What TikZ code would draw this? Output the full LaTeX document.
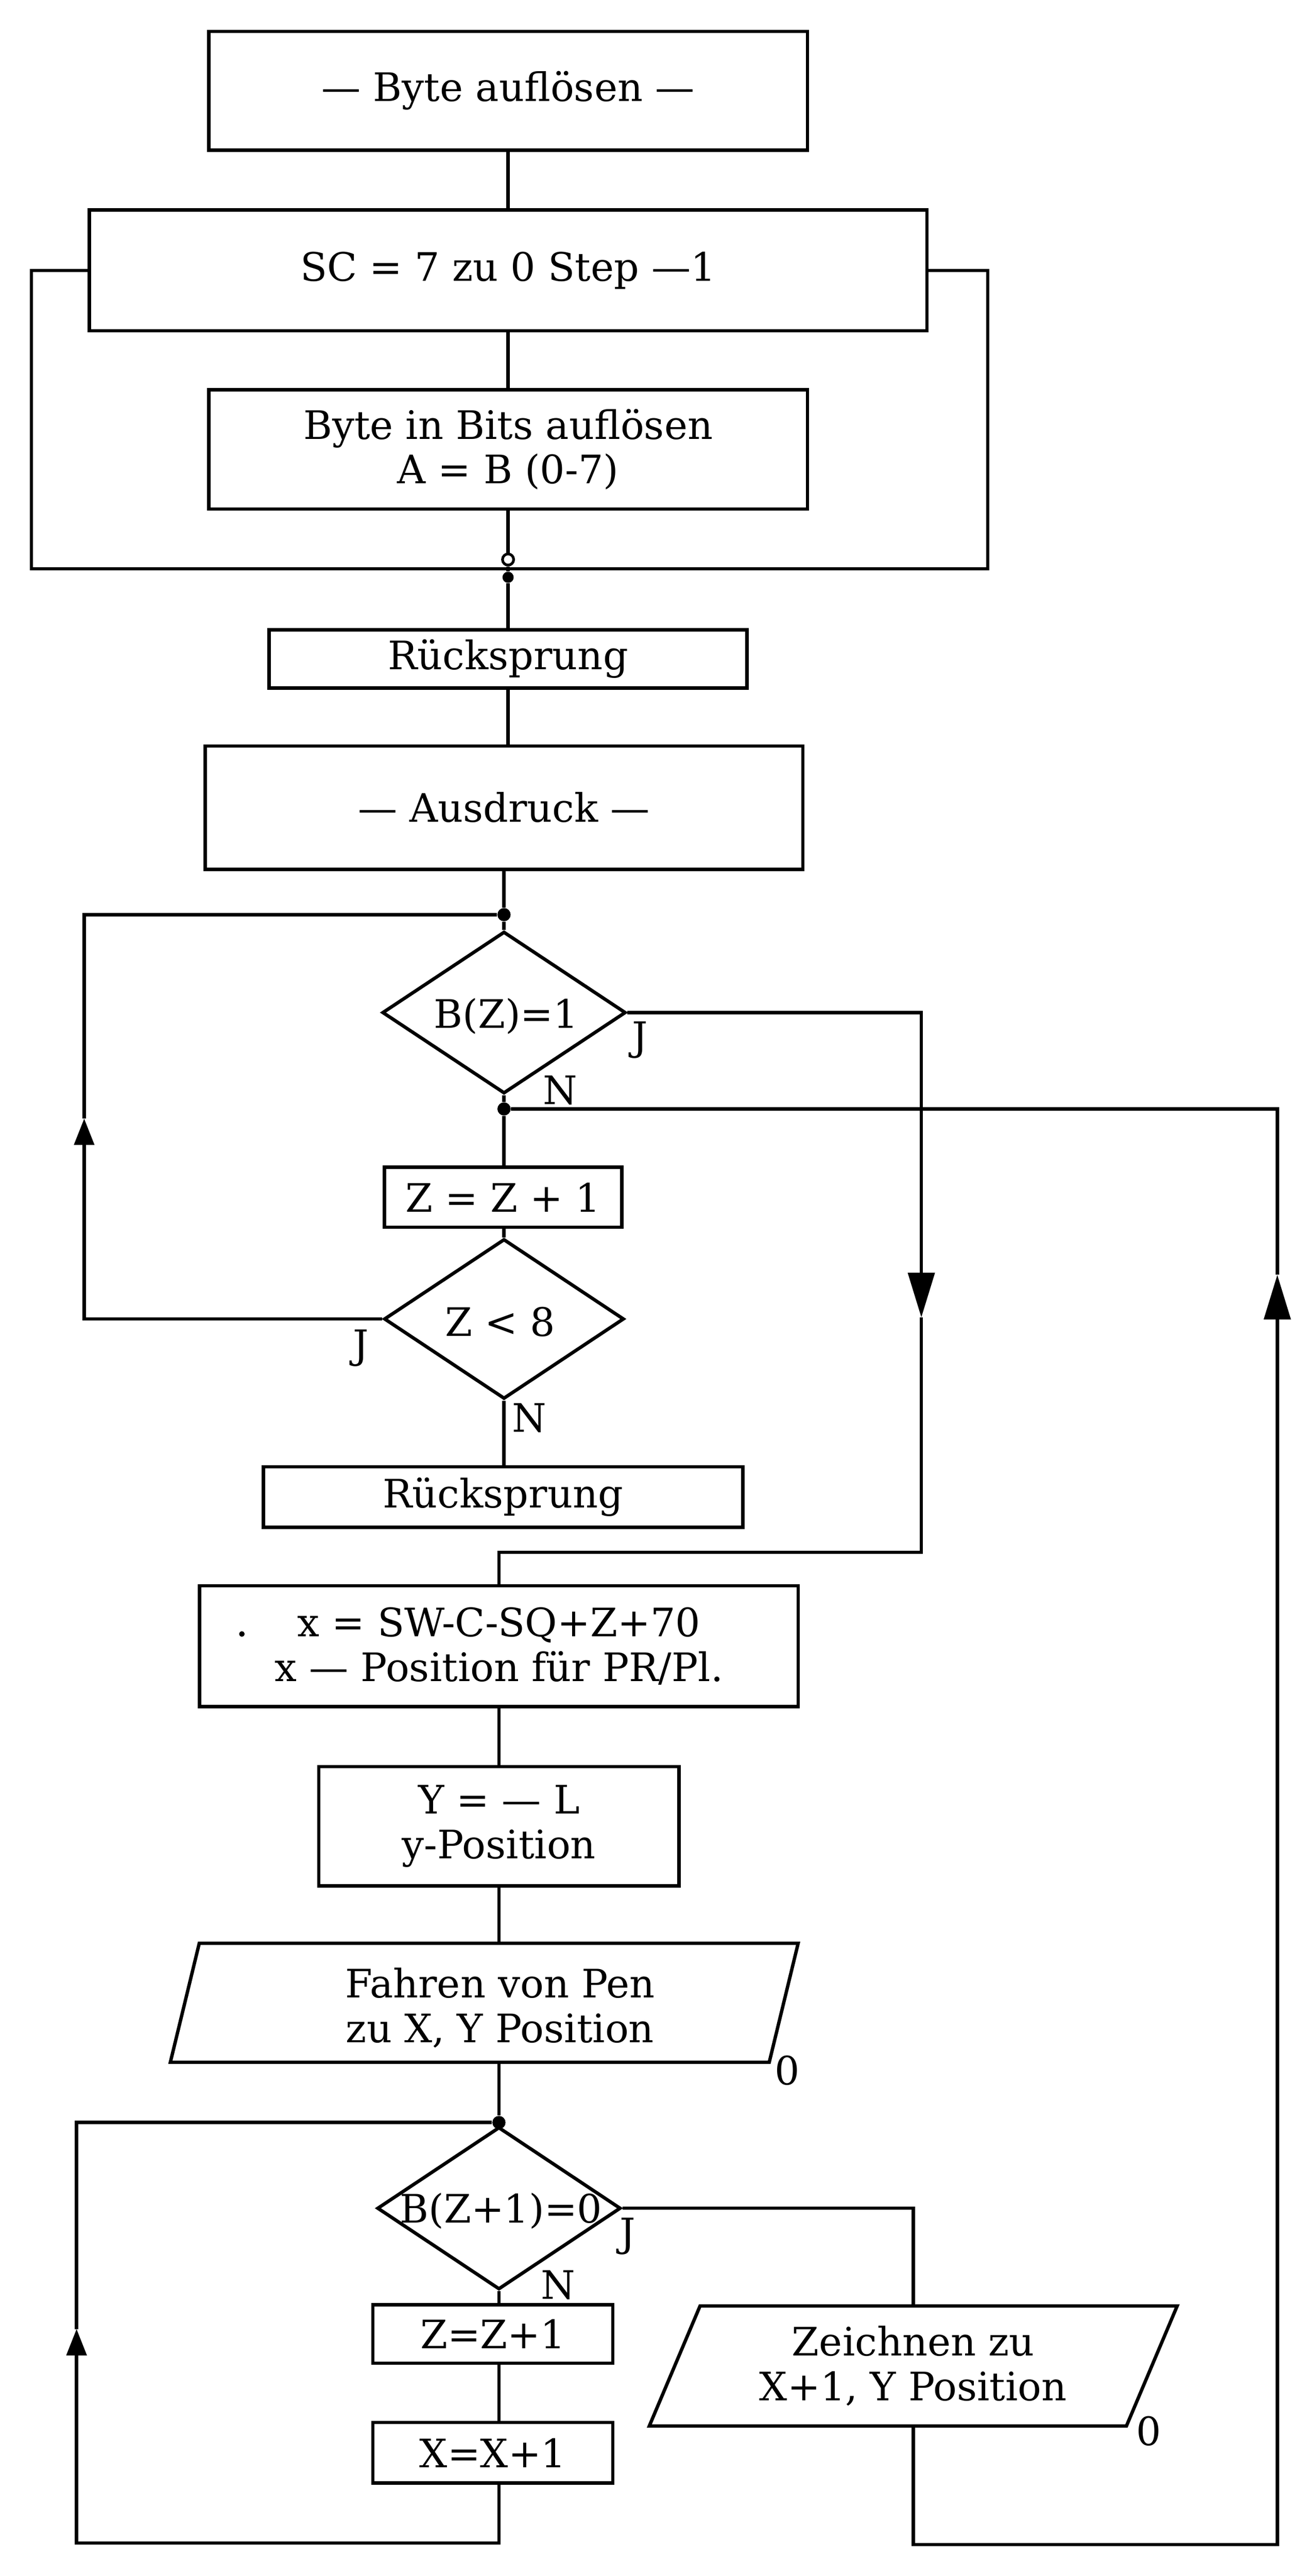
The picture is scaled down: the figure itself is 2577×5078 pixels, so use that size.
\documentclass[tikz,border=0pt]{standalone}
\usepackage{fontspec}
\setmainfont{DejaVu Serif}
\usetikzlibrary{shapes.geometric,arrows.meta}
\newcommand\flowfont{\fontsize{22pt}{25pt}\selectfont}
\tikzset{
  ln/.style={line width=1.9pt},
  box/.style={draw, rectangle, line width=1.9pt, inner sep=0pt, align=center, font=\flowfont},
  dia/.style={draw, diamond, line width=1.9pt, inner sep=0pt},
  frame/.style={rectangle, inner sep=0pt},
  txt/.style={inner sep=0pt, align=center, font=\flowfont},
  lbl/.style={inner sep=0pt, font=\flowfont},
  jdot/.style={circle, fill, inner sep=0pt, minimum size=0.26cm},
  odot/.style={circle, draw, fill=white, line width=1.5pt, inner sep=0pt, minimum size=0.22cm},
  bigtip/.style={-{Triangle[length=0.88cm,width=0.52cm]}},
  smalltip/.style={-{Triangle[length=0.52cm,width=0.39cm]}}
}
\begin{document}
\begin{tikzpicture}[x=0.01cm,y=-0.01cm]
\useasboundingbox (0,0) rectangle (2577,5078);
% upper part
\node[box, minimum width=11.8cm, minimum height=2.34cm] (b1) at (1002,179) {— Byte auflösen —};
\node[box, minimum width=16.51cm, minimum height=2.38cm] (b2) at (1002,533) {SC = 7 zu 0 Step —1};
\node[box, minimum width=11.8cm, minimum height=2.35cm] (b3) at (1002,886) {Byte in Bits auflösen\\A = B (0-7)};
\node[odot] (oc) at (1002,1103) {};
\node[jdot, minimum size=0.22cm] (dot0) at (1002,1138) {};
\node[box, minimum width=9.42cm, minimum height=1.15cm] (r1) at (1002,1299) {Rücksprung};
\node[box, minimum width=11.78cm, minimum height=2.43cm] (aus) at (994,1592) {— Ausdruck —};
\coordinate (L1a) at (62,1121);
\coordinate (L1b) at (1948,1121);
% middle part
\node[jdot] (dot1) at (994,1803) {};
\node[dia, minimum width=4.8cm, minimum height=3.19cm] (d1) at (994,1996) {};
\node[txt] (d1t) at (998,2003) {B(Z)=1};
\node[jdot] (dot2) at (994,2186) {};
\node[box, minimum width=4.68cm, minimum height=1.18cm] (z1) at (992,2360) {Z = Z + 1};
\node[dia, minimum width=4.73cm, minimum height=3.15cm] (d2) at (994,2600) {};
\node[txt] (d2t) at (986,2606) {Z < 8};
\node[box, minimum width=9.45cm, minimum height=1.19cm] (r2) at (992,2951) {Rücksprung};
\coordinate (A1) at (1817,2597);
\coordinate (J1c) at (1817,3060);
\coordinate (A2) at (166,2205);
\coordinate (A3) at (2519,2513);
\coordinate (R1) at (2519,5016);
% lower part
\node[box, minimum width=11.8cm, minimum height=2.38cm] (bx) at (984,3245) {x = SW-C-SQ+Z+70\\x — Position für PR/Pl.};
\node[circle, fill, inner sep=0pt, minimum size=0.11cm] (spk) at (477,3221) {};
\node[box, minimum width=7.1cm, minimum height=2.35cm] (by) at (984,3600) {Y = — L\\y-Position};
\node[frame, minimum width=12.36cm, minimum height=2.33cm] (p1) at (955,3948) {};
\draw[ln] (p1.south west) -- ([xshift=-0.57cm]p1.south east) -- (p1.north east) -- ([xshift=0.57cm]p1.north west) -- cycle;
\node[txt] (p1t) at (986,3958) {Fahren von Pen\\zu X, Y Position};
\node[lbl] (o1) at (1553,4081) {0};
\node[jdot] (dot3) at (984,4184) {};
\node[dia, minimum width=4.8cm, minimum height=3.2cm] (d3) at (984,4353) {};
\node[txt] (d3t) at (988,4358) {B(Z+1)=0};
\node[box, minimum width=4.73cm, minimum height=1.15cm] (z2) at (972,4601) {Z=Z+1};
\node[box, minimum width=4.73cm, minimum height=1.19cm] (xx) at (972,4835) {X=X+1};
\node[frame, minimum width=10.39cm, minimum height=2.35cm] (p2) at (1801,4664) {};
\draw[ln] (p2.south west) -- ([xshift=-1.0cm]p2.south east) -- (p2.north east) -- ([xshift=1.0cm]p2.north west) -- cycle;
\node[txt] (p2t) at (1801,4664) {Zeichnen zu\\X+1, Y Position};
\node[lbl] (o2) at (2265,4792) {0};
\coordinate (L3a) at (151,5013);
\coordinate (A4) at (151,4591);
% labels
\node[lbl] (j1) at (1262,2050) {J};
\node[lbl] (n1) at (1105,2149) {N};
\node[lbl] (j2) at (712,2657) {J};
\node[lbl] (n2) at (1044,2795) {N};
\node[lbl] (j3) at (1238,4408) {J};
\node[lbl] (n3) at (1101,4504) {N};
% connectors
\draw[ln] (b1.south) -- (b2.north);
\draw[ln] (b2.south) -- (b3.north);
\draw[ln] (b2.west) -| (L1a) -- (L1b) |- (b2.east);
\draw[ln] (b3.south) -- (oc.north);
\draw[ln] (oc.south) -- (dot0);
\draw[ln] (dot0) -- (r1.north);
\draw[ln] (r1.south) -- (r1.south |- aus.north);
\draw[ln] (aus.south) -- (dot1);
\draw[ln] (dot1) -- (d1.north);
\draw[ln] (d1.south) -- (dot2);
\draw[ln] (dot2) -- (dot2 |- z1.north);
\draw[ln] (dot2 |- z1.south) -- (d2.north);
\draw[ln] (d2.south) -- (d2.south |- r2.north);
\draw[ln, bigtip] (d1.east) -| (A1);
\draw[ln] (A1) -- (J1c) -| (bx.north);
\draw[ln, smalltip] (d2.west) -| (A2);
\draw[ln] (A2) |- (dot1);
\draw[ln] (bx.south) -- (by.north);
\draw[ln] (by.south) -- (by.south |- p1.north);
\draw[ln] (dot3 |- p1.south) -- (dot3);
\draw[ln] (dot3) -- (d3.north);
\draw[ln] (d3.south) -- (d3.south |- z2.north);
\draw[ln] (z2.south -| d3.south) -- (xx.north -| d3.south);
\draw[ln, smalltip] (xx.south -| d3.south) |- (L3a) -- (A4);
\draw[ln] (A4) |- (dot3);
\draw[ln] (d3.east) -| (p2.north);
\draw[ln, bigtip] (p2.south) |- (R1) -- (A3);
\draw[ln] (A3) |- (dot2);
\end{tikzpicture}
\end{document}
